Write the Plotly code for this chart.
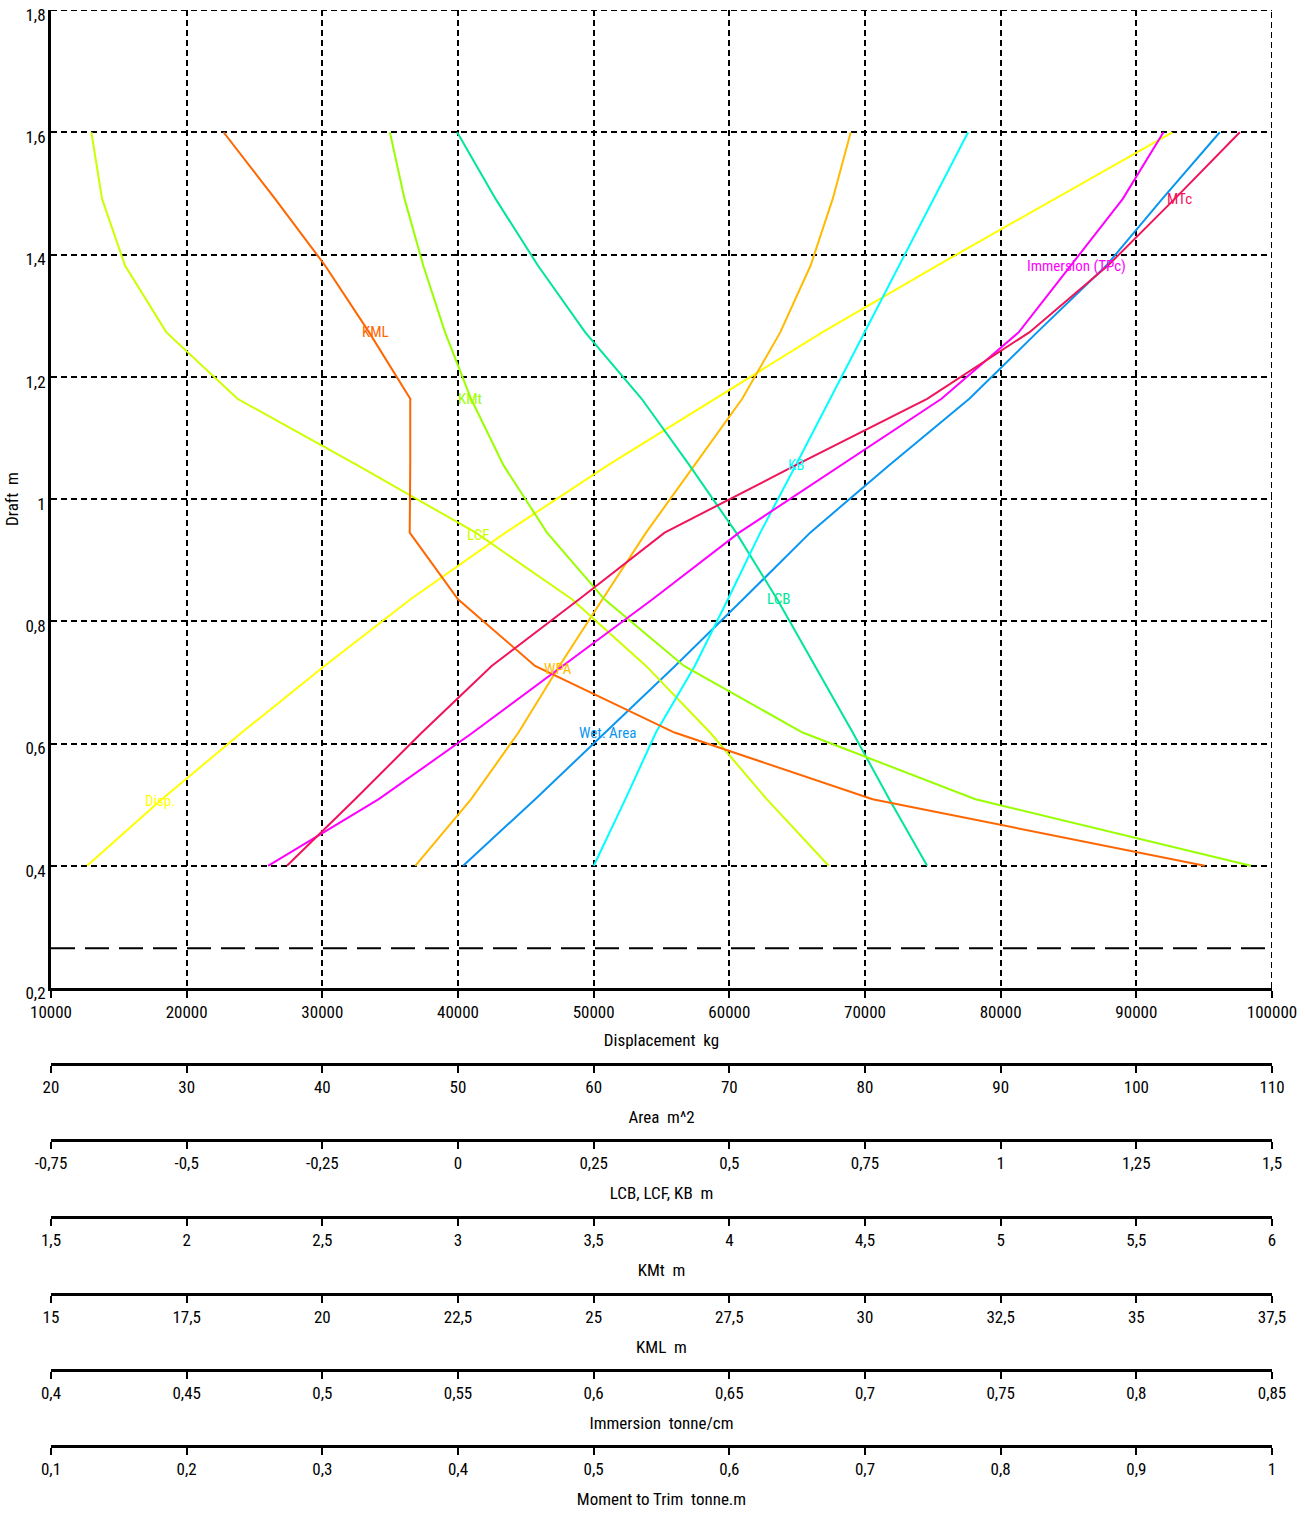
import plotly.graph_objects as go

# Hydrostatic curves against draft (m); each curve is read on its own scale below the chart.
drafts = [0.4, 0.509, 0.618, 0.727, 0.836, 0.945, 1.055, 1.164, 1.273, 1.382, 1.491, 1.6]

disp_kg = [12660, 18170, 24060, 30160, 36500, 43500, 51030, 58960, 66870, 75320, 83940, 92650]
wpa_m2 = [46.85, 50.97, 54.46, 57.47, 60.65, 63.86, 67.42, 70.95, 73.76, 75.99, 77.62, 78.95]
wet_area_m2 = [50.38, 55.69, 60.85, 66.00, 71.01, 75.96, 81.76, 87.69, 92.70, 97.79, 101.91, 106.15]
lcb_m = [0.8645, 0.7948, 0.7274, 0.6585, 0.5882, 0.5126, 0.4267, 0.3384, 0.2341, 0.1473, 0.0693, -0.0015]
lcf_m = [0.683, 0.5689, 0.4645, 0.3465, 0.21, 0.0328, -0.185, -0.4064, -0.5377, -0.6136, -0.6559, -0.6756]
kb_m = [0.2502, 0.3085, 0.3647, 0.4363, 0.4974, 0.5570, 0.6222, 0.6859, 0.7496, 0.8126, 0.8763, 0.94]
kmt_m = [5.922, 4.907, 4.270, 3.833, 3.540, 3.328, 3.168, 3.048, 2.952, 2.872, 2.803, 2.749]
kml_m = [36.26, 30.14, 26.49, 23.92, 22.50, 21.61, 21.62, 21.62, 20.86, 20.05, 19.13, 18.18]
immersion_t_cm = [0.480, 0.5208, 0.5555, 0.5888, 0.6217, 0.6536, 0.6909, 0.7282, 0.7567, 0.7759, 0.7950, 0.81]
mtc_t_m = [0.2739, 0.3241, 0.3734, 0.4248, 0.4893, 0.5523, 0.6486, 0.7458, 0.8213, 0.8791, 0.9283, 0.9763]

keel_draft = 0.265

# Tick values / labels (decimal comma)
draft_ticks = [0.2, 0.4, 0.6, 0.8, 1.0, 1.2, 1.4, 1.6, 1.8]
draft_labels = ["0,2", "0,4", "0,6", "0,8", "1", "1,2", "1,4", "1,6", "1,8"]
disp_ticks = [10000, 20000, 30000, 40000, 50000, 60000, 70000, 80000, 90000, 100000]
disp_labels = ["10000", "20000", "30000", "40000", "50000", "60000", "70000", "80000", "90000", "100000"]
area_ticks = [20, 30, 40, 50, 60, 70, 80, 90, 100, 110]
area_labels = ["20", "30", "40", "50", "60", "70", "80", "90", "100", "110"]
lcb_ticks = [-0.75, -0.5, -0.25, 0, 0.25, 0.5, 0.75, 1, 1.25, 1.5]
lcb_labels = ["-0,75", "-0,5", "-0,25", "0", "0,25", "0,5", "0,75", "1", "1,25", "1,5"]
kmt_ticks = [1.5, 2, 2.5, 3, 3.5, 4, 4.5, 5, 5.5, 6]
kmt_labels = ["1,5", "2", "2,5", "3", "3,5", "4", "4,5", "5", "5,5", "6"]
kml_ticks = [15, 17.5, 20, 22.5, 25, 27.5, 30, 32.5, 35, 37.5]
kml_labels = ["15", "17,5", "20", "22,5", "25", "27,5", "30", "32,5", "35", "37,5"]
imm_ticks = [0.4, 0.45, 0.5, 0.55, 0.6, 0.65, 0.7, 0.75, 0.8, 0.85]
imm_labels = ["0,4", "0,45", "0,5", "0,55", "0,6", "0,65", "0,7", "0,75", "0,8", "0,85"]
mtc_ticks = [0.1, 0.2, 0.3, 0.4, 0.5, 0.6, 0.7, 0.8, 0.9, 1]
mtc_labels = ["0,1", "0,2", "0,3", "0,4", "0,5", "0,6", "0,7", "0,8", "0,9", "1"]

FONT = ("Roboto Condensed, Noto Sans ExtraCondensed, Noto Sans Condensed, Open Sans Condensed, "
        "Liberation Sans Narrow, Arial Narrow, Liberation Sans, sans-serif")
NB = "\u00a0"

curves = [
    ("Disp.", disp_kg, "x", "#FFFF00", 18034, 0.506),
    ("LCF", lcf_m, "x3", "#CCFF00", 41474, 0.941),
    ("KMt", kmt_m, "x4", "#99FF00", 40884, 1.164),
    ("KML", kml_m, "x5", "#FF6600", 33882, 1.273),
    ("LCB", lcb_m, "x3", "#00E696", 63587, 0.836),
    ("KB", kb_m, "x3", "#00FFFF", 64914, 1.055),
    ("WPA", wpa_m2, "x2", "#FFBB00", 47371, 0.722),
    ("Wet. Area", wet_area_m2, "x2", "#0A96F0", 50983, 0.618),
    ("Immersion (TPc)", immersion_t_cm, "x6", "#FF00FF", 85626, 1.382),
    ("MTc", mtc_t_m, "x7", "#F0145A", 93145, 1.491),
]

fig = go.Figure()
annotations = []
for name, vals, xa, color, lx, ly in curves:
    fig.add_trace(go.Scatter(x=vals, y=drafts, xaxis=xa, yaxis="y", mode="lines",
                             line=dict(color=color, width=2), name=name,
                             showlegend=False, hoverinfo="skip"))
    annotations.append(dict(text=name, x=lx, y=ly, xref="x", yref="y", showarrow=False,
                            font=dict(family=FONT, size=15, color=color)))

tick_font = dict(family=FONT, size=17, color="black")
title_font = dict(family=FONT, size=17, color="black")


def scale_axis(ticks, labels, title, position):
    return dict(range=[ticks[0], ticks[-1]], tickmode="array", tickvals=ticks, ticktext=labels,
                overlaying="x", anchor="free", position=position, side="bottom",
                showline=True, linecolor="black", linewidth=3,
                ticks="outside", ticklen=7, tickwidth=2, tickcolor="black",
                showgrid=False, zeroline=False, automargin=False, fixedrange=True,
                tickfont=tick_font, title=dict(text=title, font=title_font, standoff=14))


grid = dict(showgrid=True, gridcolor="black", gridwidth=2, griddash="6px,4px")
edge_line = dict(color="black", width=2, dash="6px,4px")

fig.update_layout(
    width=1305, height=1513,
    margin=dict(l=51, r=33, t=10, b=67),
    paper_bgcolor="white", plot_bgcolor="white",
    font=dict(family=FONT, size=17, color="black"),
    xaxis=dict(range=[10000, 100000], tickmode="array", tickvals=disp_ticks, ticktext=disp_labels,
               anchor="y", showline=True, linecolor="black", linewidth=3,
               ticks="outside", ticklen=7, tickwidth=2, tickcolor="black",
               zeroline=False, automargin=False, fixedrange=True, tickfont=tick_font,
               title=dict(text="Displacement" + NB + NB + "kg", font=title_font, standoff=13), **grid),
    yaxis=dict(domain=[0.3189, 1], range=[0.2, 1.8], tickmode="array", tickvals=draft_ticks,
               ticktext=draft_labels, showline=True, linecolor="black", linewidth=3,
               ticks="", ticklabelshift=5, ticklabelstandoff=-1,
               zeroline=False, automargin=False, fixedrange=True, tickfont=tick_font,
               title=dict(text="Draft" + NB + NB + "m", font=title_font, standoff=3), **grid),
    xaxis2=scale_axis(area_ticks, area_labels, "Area" + NB + NB + "m^2", 0.2660),
    xaxis3=scale_axis(lcb_ticks, lcb_labels, "LCB, LCF, KB" + NB + NB + "m", 0.2131),
    xaxis4=scale_axis(kmt_ticks, kmt_labels, "KMt" + NB + NB + "m", 0.1595),
    xaxis5=scale_axis(kml_ticks, kml_labels, "KML" + NB + NB + "m", 0.1058),
    xaxis6=scale_axis(imm_ticks, imm_labels, "Immersion" + NB + NB + "tonne/cm", 0.0529),
    xaxis7=scale_axis(mtc_ticks, mtc_labels, "Moment to Trim" + NB + NB + "tonne.m", 0.0),
    annotations=annotations,
    shapes=[
        # grid lines on the top and right edges of the plotting area
        dict(type="line", xref="x", yref="y", x0=10000, x1=100000, y0=1.8, y1=1.8,
             line=edge_line, layer="below"),
        dict(type="line", xref="x", yref="y", x0=100000, x1=100000, y0=0.2, y1=1.8,
             line=edge_line, layer="below"),
        # keel reference line
        dict(type="line", xref="x", yref="y", x0=10000, x1=100000, y0=keel_draft, y1=keel_draft,
             line=dict(color="black", width=2, dash="24px,10px"), layer="above"),
    ],
)

fig.write_html("out.html")
